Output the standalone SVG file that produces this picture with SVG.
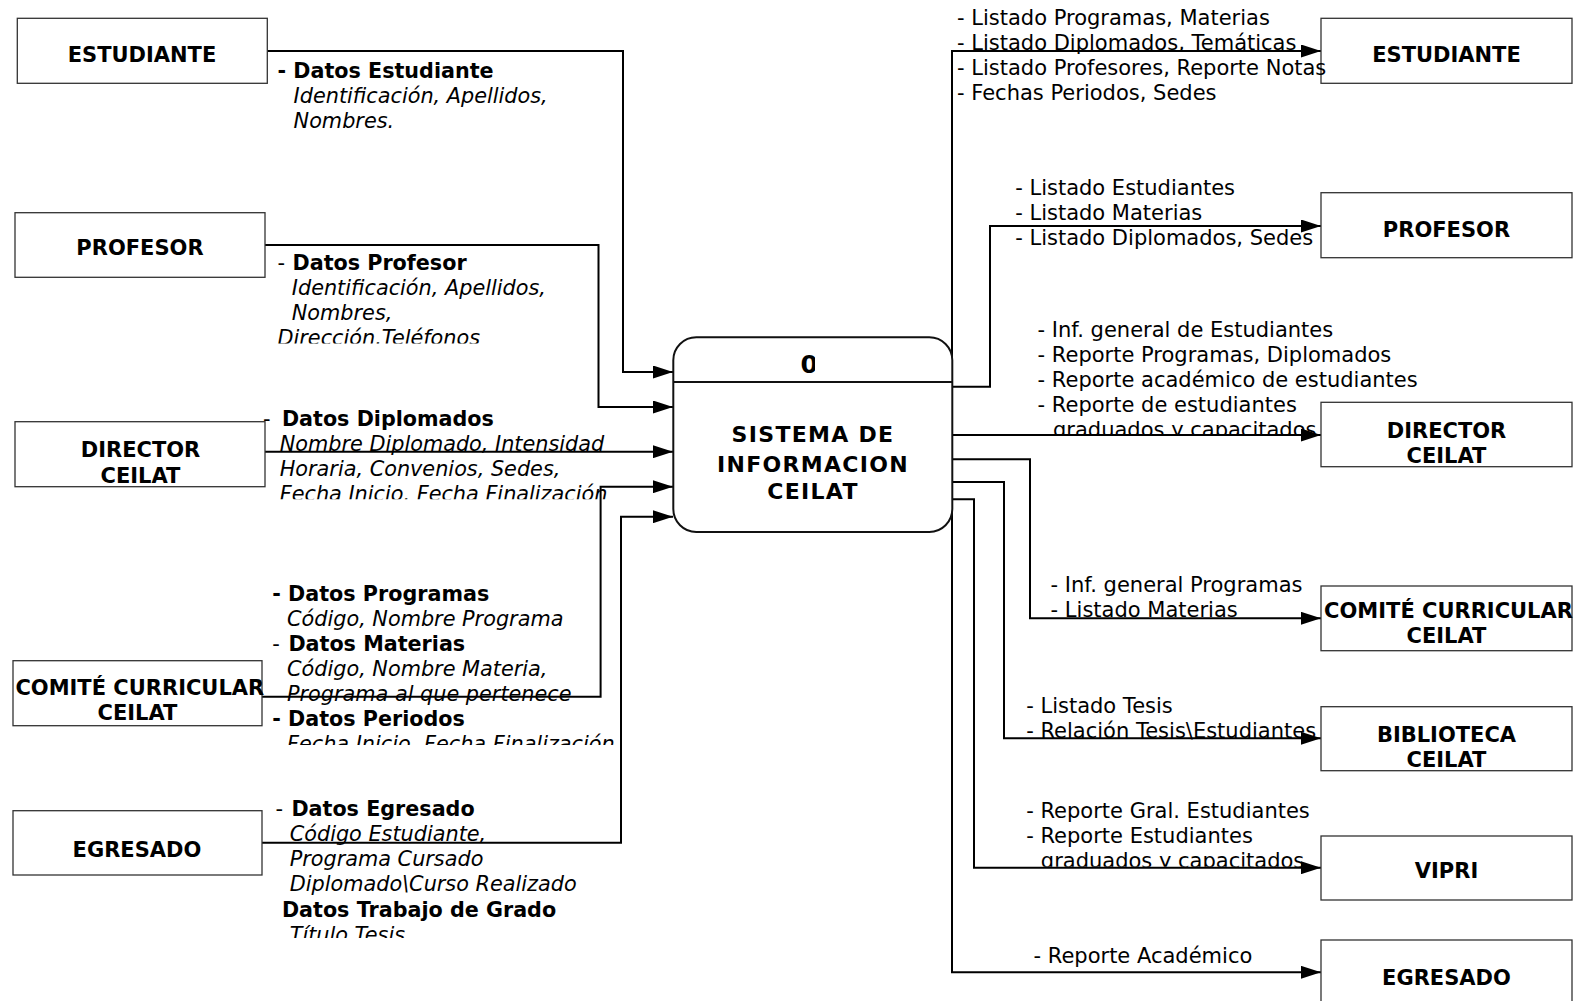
<svg xmlns="http://www.w3.org/2000/svg" width="1577" height="1001" viewBox="0 0 1577 1001">
<style>
.box{fill:#fff;stroke:#333;stroke-width:1.3}
.proc{fill:#fff;stroke:#111;stroke-width:2}
.nl{font-family:"DejaVu Sans",Verdana,sans-serif;font-weight:bold;font-size:21px;text-anchor:middle;fill:#000}
.zero{font-family:"DejaVu Sans",Verdana,sans-serif;font-weight:bold;font-size:25px;fill:#000}
.pl{font-family:"DejaVu Sans",Verdana,sans-serif;font-weight:bold;font-size:22px;letter-spacing:1.3px;text-anchor:middle;fill:#000}
.lb{font-family:"DejaVu Sans",Verdana,sans-serif;font-size:21px;fill:#000}
.b{font-weight:bold;font-size:20.7px}
.i{font-style:italic;font-size:20.8px}
.c{fill:none;stroke:#000;stroke-width:2}
</style>
<defs>
<marker id="ah" markerUnits="userSpaceOnUse" markerWidth="20" markerHeight="13" refX="20" refY="6.5" orient="auto">
<path d="M0,0 L20,6.5 L0,13 Z" fill="#000"/>
</marker>
<clipPath id="clipZero" clipPathUnits="userSpaceOnUse"><rect x="780" y="340" width="35" height="40"/></clipPath>
<clipPath id="clipProf" clipPathUnits="userSpaceOnUse"><rect x="260" y="240" width="400" height="103.5"/></clipPath>
<clipPath id="clipDipl" clipPathUnits="userSpaceOnUse"><rect x="255" y="395" width="400" height="104.3"/></clipPath>
<clipPath id="clipCom" clipPathUnits="userSpaceOnUse"><rect x="255" y="570" width="400" height="175"/></clipPath>
<clipPath id="clipEgr" clipPathUnits="userSpaceOnUse"><rect x="255" y="790" width="400" height="148"/></clipPath>
<clipPath id="clipR3" clipPathUnits="userSpaceOnUse"><rect x="1020" y="305" width="400" height="129.5"/></clipPath>
<clipPath id="clipR6" clipPathUnits="userSpaceOnUse"><rect x="1010" y="790" width="400" height="76.7"/></clipPath>
</defs>

<g id="connectors">
<path class="c" d="M267,51 H623 V372 H673" marker-end="url(#ah)"/>
<path class="c" d="M265,245 H598.5 V407 H673" marker-end="url(#ah)"/>
<path class="c" d="M265,451.7 H673" marker-end="url(#ah)"/>
<path class="c" d="M262,696.7 H600.6 V486.7 H673" marker-end="url(#ah)"/>
<path class="c" d="M262,842.7 H621 V516.7 H673" marker-end="url(#ah)"/>
<path class="c" d="M952,362 V51 H1321" marker-end="url(#ah)"/>
<path class="c" d="M952,386.7 H990 V226 H1321" marker-end="url(#ah)"/>
<path class="c" d="M952,435 H1321" marker-end="url(#ah)"/>
<path class="c" d="M952,459.3 H1030 V618.3 H1321" marker-end="url(#ah)"/>
<path class="c" d="M952,482 H1004 V738.3 H1321" marker-end="url(#ah)"/>
<path class="c" d="M952,499.3 H974 V867.7 H1321" marker-end="url(#ah)"/>
<path class="c" d="M952,512 V972.3 H1321" marker-end="url(#ah)"/>
</g>

<g id="process-0">
<rect class="proc" x="673.3" y="337.3" width="279" height="194.7" rx="23" ry="23"/>
<line x1="673.3" y1="382" x2="952.3" y2="382" stroke="#111" stroke-width="2"/>
<text class="zero" x="800.5" y="373" clip-path="url(#clipZero)">0</text>
<text class="pl" x="813" y="441.7">SISTEMA DE</text>
<text class="pl" x="813" y="471.7">INFORMACION</text>
<text class="pl" x="813" y="499">CEILAT</text>
</g>

<g id="ext-estudiante-in">
<rect class="box" x="17.3" y="18.3" width="250" height="65"/>
<text class="nl" x="142" y="62.3">ESTUDIANTE</text>
</g>
<g id="ext-profesor-in">
<rect class="box" x="15" y="212.7" width="250" height="64.6"/>
<text class="nl" x="140" y="255">PROFESOR</text>
</g>
<g id="ext-director-in">
<rect class="box" x="15" y="421.7" width="250" height="65"/>
<text class="nl" x="140.5" y="457.3">DIRECTOR</text>
<text class="nl" x="140.5" y="482.7">CEILAT</text>
</g>
<g id="ext-comite-in">
<rect class="box" x="13" y="660.7" width="249" height="65"/>
<text class="nl" x="139.8" y="695">COMITÉ CURRICULAR</text>
<text class="nl" x="137.5" y="720">CEILAT</text>
</g>
<g id="ext-egresado-in">
<rect class="box" x="13" y="810.7" width="249" height="64.3"/>
<text class="nl" x="137" y="856.7">EGRESADO</text>
</g>

<g id="ext-estudiante-out">
<rect class="box" x="1321" y="18.3" width="251" height="65"/>
<text class="nl" x="1446.5" y="62.3">ESTUDIANTE</text>
</g>
<g id="ext-profesor-out">
<rect class="box" x="1321" y="192.7" width="251" height="65"/>
<text class="nl" x="1446.5" y="236.7">PROFESOR</text>
</g>
<g id="ext-director-out">
<rect class="box" x="1321" y="402.3" width="251" height="64.4"/>
<text class="nl" x="1446.5" y="438.3">DIRECTOR</text>
<text class="nl" x="1446.5" y="463.3">CEILAT</text>
</g>
<g id="ext-comite-out">
<rect class="box" x="1321" y="586" width="251" height="64.7"/>
<text class="nl" x="1448.5" y="618.3">COMITÉ CURRICULAR</text>
<text class="nl" x="1446.5" y="643.3">CEILAT</text>
</g>
<g id="ext-biblioteca-out">
<rect class="box" x="1321" y="706.7" width="251" height="64"/>
<text class="nl" x="1446.5" y="741.7">BIBLIOTECA</text>
<text class="nl" x="1446.5" y="766.7">CEILAT</text>
</g>
<g id="ext-vipri-out">
<rect class="box" x="1321" y="836" width="251" height="64"/>
<text class="nl" x="1446.5" y="878.3">VIPRI</text>
</g>
<g id="ext-egresado-out">
<rect class="box" x="1321" y="940" width="251" height="66"/>
<text class="nl" x="1446.5" y="985">EGRESADO</text>
</g>

<g id="labels">
<text class="lb"><tspan class="b" x="277.5" y="78.3">- Datos Estudiante</tspan><tspan class="i" x="293.6" y="103.3">Identificación, Apellidos,</tspan><tspan class="i" x="293.6" y="128.3">Nombres.</tspan></text>
<text class="lb" clip-path="url(#clipProf)"><tspan x="277.5" y="270">- </tspan><tspan class="b" x="292.5" y="270">Datos Profesor</tspan><tspan class="i" x="291.8" y="295">Identificación, Apellidos,</tspan><tspan class="i" x="291.8" y="320">Nombres,</tspan><tspan class="i" x="277.5" y="345">Dirección.Teléfonos</tspan></text>
<text class="lb" clip-path="url(#clipDipl)"><tspan x="263" y="426">-</tspan><tspan class="b" x="281.9" y="426">Datos Diplomados</tspan><tspan class="i" x="279.7" y="451">Nombre Diplomado, Intensidad</tspan><tspan class="i" x="279.7" y="476">Horaria, Convenios, Sedes,</tspan><tspan class="i" x="279.7" y="501">Fecha Inicio. Fecha Finalización</tspan></text>
<text class="lb" clip-path="url(#clipCom)"><tspan class="b" x="272.3" y="600.7">- Datos Programas</tspan><tspan class="i" x="287" y="625.7">Código, Nombre Programa</tspan><tspan x="272.3" y="650.7">- </tspan><tspan class="b" x="288.4" y="650.7">Datos Materias</tspan><tspan class="i" x="287" y="675.7">Código, Nombre Materia,</tspan><tspan class="i" x="287" y="700.7">Programa al que pertenece</tspan><tspan class="b" x="272.3" y="725.7">- Datos Periodos</tspan><tspan class="i" x="287" y="750.7">Fecha Inicio. Fecha Finalización</tspan></text>
<text class="lb" clip-path="url(#clipEgr)"><tspan x="275.4" y="816">- </tspan><tspan class="b" x="291.4" y="816">Datos Egresado</tspan><tspan class="i" x="289.7" y="841">Código Estudiante,</tspan><tspan class="i" x="289.7" y="866">Programa Cursado</tspan><tspan class="i" x="289.7" y="891">Diplomado\Curso Realizado</tspan><tspan class="b" x="281.9" y="916.7">Datos Trabajo de Grado</tspan><tspan class="i" x="289.7" y="941.7">Título Tesis</tspan></text>

<text class="lb"><tspan x="957" y="25">- Listado Programas, Materias</tspan><tspan x="957" y="50">- Listado Diplomados, Temáticas</tspan><tspan x="957" y="75">- Listado Profesores, Reporte Notas</tspan><tspan x="957" y="100">- Fechas Periodos, Sedes</tspan></text>
<text class="lb"><tspan x="1015.2" y="195">- Listado Estudiantes</tspan><tspan x="1015.2" y="220">- Listado Materias</tspan><tspan x="1015.2" y="245">- Listado Diplomados, Sedes</tspan></text>
<text class="lb" clip-path="url(#clipR3)"><tspan x="1037.6" y="336.7">- Inf. general de Estudiantes</tspan><tspan x="1037.6" y="361.7">- Reporte Programas, Diplomados</tspan><tspan x="1037.6" y="386.7">- Reporte académico de estudiantes</tspan><tspan x="1037.6" y="411.7">- Reporte de estudiantes</tspan><tspan x="1053" y="436.7">graduados y capacitados</tspan></text>
<text class="lb"><tspan x="1050.6" y="591.7">- Inf. general Programas</tspan><tspan x="1050.6" y="616.7">- Listado Materias</tspan></text>
<text class="lb"><tspan x="1026.2" y="712.7">- Listado Tesis</tspan><tspan x="1026.2" y="737.7">- Relación Tesis\Estudiantes</tspan></text>
<text class="lb" clip-path="url(#clipR6)"><tspan x="1026.2" y="818.3">- Reporte Gral. Estudiantes</tspan><tspan x="1026.2" y="843.3">- Reporte Estudiantes</tspan><tspan x="1040.8" y="868.3">graduados y capacitados</tspan></text>
<text class="lb"><tspan x="1033.5" y="963.3">- Reporte Académico</tspan></text>
</g>
</svg>
